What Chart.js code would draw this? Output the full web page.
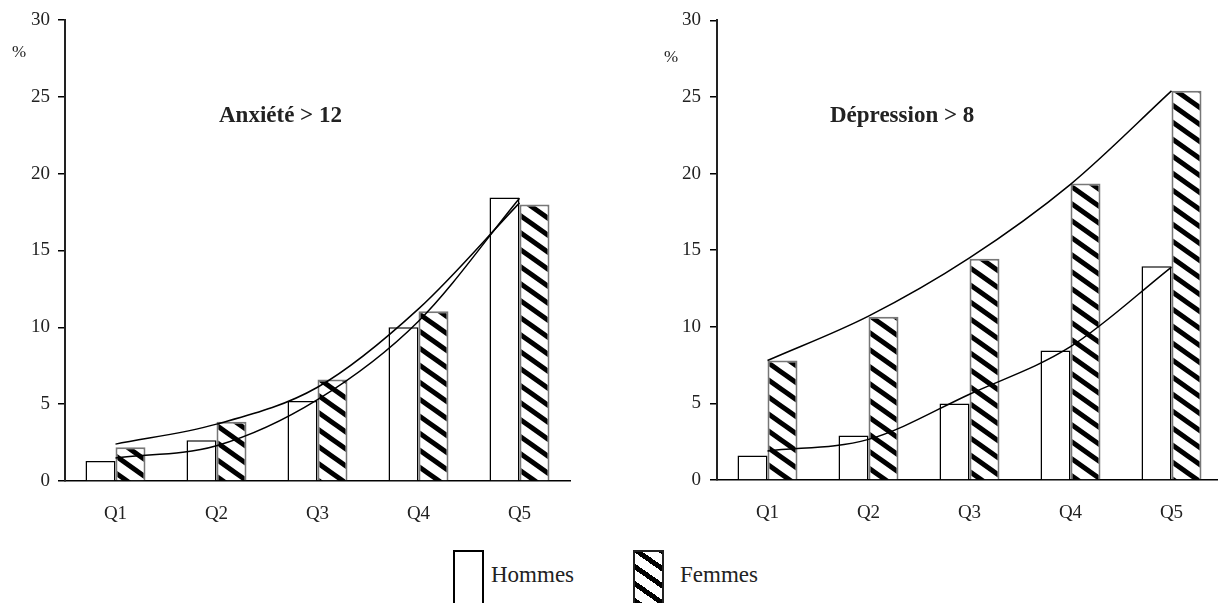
<!DOCTYPE html>
<html>
<head>
<meta charset="utf-8">
<script src="https://cdn.jsdelivr.net/npm/chart.js@4"></script>
<style>
  html, body { margin: 0; padding: 0; background: #fff; overflow: hidden; width: 1218px; height: 603px; }
  body { position: relative; font-family: "Liberation Serif", "DejaVu Serif", serif; color: #222; }
  .wrap { position: absolute; top: 0; }
  .lbl { position: absolute; white-space: nowrap; line-height: 1; }
  .titre { font-weight: bold; font-size: 23px; }
  .box { position: absolute; box-sizing: border-box; width: 31px; height: 56px; border: 2px solid #000; background: #fff; }
  .hatch { border-color: #222; background: repeating-linear-gradient(35deg, #000 0 5px, #fff 5px 14px); }
</style>
</head>
<body>
<div class="wrap" style="left:0;width:580px;height:545px"><canvas id="anx" width="580" height="545"></canvas></div>
<div class="wrap" style="left:640px;width:582px;height:545px"><canvas id="dep" width="582" height="545"></canvas></div>

<div class="lbl" style="left:12px;top:43px;font-size:17px">%</div>
<div class="lbl" style="left:664px;top:48px;font-size:17px">%</div>
<div class="lbl titre" style="left:219px;top:103px">Anxiété &gt; 12</div>
<div class="lbl titre" style="left:830px;top:103px">Dépression &gt; 8</div>

<div class="box" style="left:453px;top:550px"></div>
<div class="lbl" style="left:491px;top:563px;font-size:23px">Hommes</div>
<div class="box hatch" style="left:633px;top:550px"></div>
<div class="lbl" style="left:680px;top:563px;font-size:23px">Femmes</div>

<script>
// quintiles
const quintiles = ["Q1", "Q2", "Q3", "Q4", "Q5"];
const yTicks = [0, 5, 10, 15, 20, 25, 30];

// Anxiété > 12 (%)
const anxHommes = [1.3, 2.65, 5.2, 10.0, 18.45];
const anxFemmes = [2.2, 3.85, 6.6, 11.05, 18.0];
const anxTendHommes = [1.5, 2.3, 5.3, 10.4, 18.4];
const anxTendFemmes = [2.4, 3.7, 6.1, 11.2, 18.1];

// Dépression > 8 (%)
const depHommes = [1.6, 2.9, 5.0, 8.45, 13.95];
const depFemmes = [7.8, 10.65, 14.45, 19.35, 25.4];
const depTendHommes = [1.9, 2.65, 5.6, 8.7, 13.9];
const depTendFemmes = [7.8, 10.7, 14.5, 19.3, 25.4];

const police = "'Liberation Serif', 'Times New Roman', serif";

function hachures() {
    const c = document.createElement("canvas");
    c.width = 24;
    c.height = 17;
    const g = c.getContext("2d");
    g.fillStyle = "#fff";
    g.fillRect(0, 0, 24, 17);
    g.strokeStyle = "#000";
    g.lineWidth = 5;
    for (let k = -1; k <= 1; k++) {
        g.beginPath();
        g.moveTo(k * 24 - 24, -17);
        g.lineTo(k * 24 + 48, 34);
        g.stroke();
    }
    return g.createPattern(c, "repeat");
}
const motif = hachures();

function tendance(data) {
    return {
        type: "line",
        data: data,
        borderColor: "#000",
        borderWidth: 1.5,
        pointRadius: 0,
        cubicInterpolationMode: "monotone",
        fill: false,
        order: 0
    };
}

function creerGraphique(id, hommes, femmes, tendH, tendF, largeurY, pad, basAxe, padY) {
    const ctx = document.getElementById(id).getContext("2d");
    return new Chart(ctx, {
        type: "bar",
        data: {
            labels: quintiles,
            datasets: [
                {
                    label: "Hommes",
                    data: hommes,
                    backgroundColor: "#fff",
                    borderColor: "#000",
                    borderWidth: 1.5,
                    order: 1
                },
                {
                    label: "Femmes",
                    data: femmes,
                    backgroundColor: motif,
                    borderColor: "#777",
                    borderWidth: 2,
                    order: 1
                },
                tendance(tendH),
                tendance(tendF)
            ]
        },
        options: {
            responsive: false,
            devicePixelRatio: 1,
            animation: false,
            layout: { padding: { top: pad.top, right: pad.right, left: 0, bottom: 0 } },
            plugins: { legend: { display: false }, tooltip: { enabled: false } },
            datasets: { bar: { categoryPercentage: 0.594, barPercentage: 1 } },
            scales: {
                x: {
                    grid: { display: false, drawTicks: false },
                    border: { display: true, color: "#000", width: 1.5 },
                    ticks: { padding: 22, color: "#222", font: { family: police, size: 19 } },
                    afterFit: s => { s.height = 545 - basAxe; }
                },
                y: {
                    min: 0,
                    max: 30,
                    afterBuildTicks: s => { s.ticks = yTicks.map(v => ({ value: v })); },
                    grid: { drawOnChartArea: false, drawTicks: true, tickLength: 7, color: "#000", lineWidth: 1.5 },
                    border: { display: true, color: "#222", width: 2 },
                    ticks: { padding: padY, color: "#222", font: { family: police, size: 19 } },
                    afterFit: s => { s.width = largeurY; }
                }
            }
        }
    });
}

creerGraphique("anx", anxHommes, anxFemmes, anxTendHommes, anxTendFemmes, 65, { top: 20, right: 10 }, 481, 8);
creerGraphique("dep", depHommes, depFemmes, depTendHommes, depTendFemmes, 77, { top: 19, right: 0 }, 480, 9);
</script>
</body>
</html>
